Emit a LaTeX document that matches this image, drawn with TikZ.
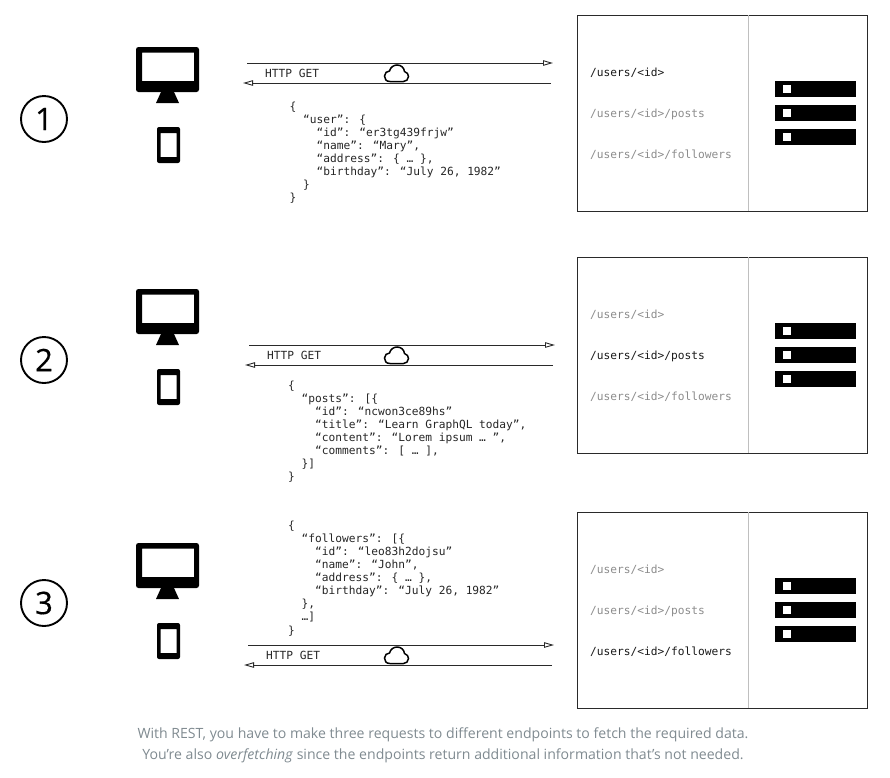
\documentclass[tikz,border=0pt]{standalone}
\usepackage{fontspec}
\setmainfont{Open Sans}
\newfontfamily\jsonfamily{DejaVu Sans Mono}
\newfontfamily\digitfamily[FakeBold=0.5]{Open Sans}
\usetikzlibrary{arrows.meta}
\definecolor{captiongray}{HTML}{7F8A90}
\definecolor{idlegray}{HTML}{8C8C8C}
\definecolor{ruleline}{HTML}{2A2A2A}
\def\jsonsize{\jsonfamily\fontsize{11.2}{13.1}\selectfont}
\def\tw{\ \ }
\tikzset{
    stepnum/.style={draw,circle,line width=1.9pt,minimum size=46pt,inner sep=0pt,font=\digitfamily\fontsize{31}{31}\selectfont},
    wire/.style={draw=ruleline,line width=0.9pt,-{Triangle[open,length=10pt,width=5.5pt]}},
    servbox/.style={draw=ruleline,line width=1pt,minimum width=290pt,minimum height=196pt,inner sep=0pt},
    rackbar/.style={fill=black,minimum width=81pt,minimum height=16pt,inner sep=0pt},
    rackled/.style={fill=white,minimum size=8pt,inner sep=0pt},
    active/.style={anchor=west,inner sep=0pt,text=black!90,font=\jsonsize},
    idle/.style={anchor=west,inner sep=0pt,text=idlegray,font=\jsonsize},
    json/.style={anchor=north west,inner sep=0pt,align=left,text=black!85,font=\jsonsize}
}
\begin{document}
\begin{tikzpicture}[x=1pt,y=-1pt]
    \useasboundingbox (0,0) rectangle (890,777);
    \foreach \n/\cy/\md/\ax/\ay/\bd/\sa/\sb/\sc in {
        1/119/0/0/0/0/active/idle/idle,
        2/360/242/2/282/242/idle/active/idle,
        3/603/496/1/582/497/idle/idle/active} {
        \node[stepnum] (step\n) at (44,\cy) {\n};
        % client
        \begin{scope}[yshift=-\md pt]
            \fill[rounded corners=2.5pt,even odd rule] (136,47) rectangle (199,92) (142,52.5) [sharp corners] rectangle (194,81);
            \fill (161,92) -- (156,103) -- (179,103) -- (174,92) -- cycle;
            \fill[rounded corners=2pt,even odd rule] (157,127) rectangle (180,163) (160.5,133) [sharp corners] rectangle (176.5,157);
        \end{scope}
        % request and response
        \begin{scope}[yshift=-\ay pt]
            \coordinate (reqa\n) at (247+\ax,63);
            \coordinate (reqb\n) at (553+\ax,63);
            \coordinate (resa\n) at (551+\ax,83);
            \coordinate (resb\n) at (243+\ax,83);
            \draw[wire] (reqa\n) -- (reqb\n);
            \draw[wire] (resa\n) -- (resb\n);
            \node[anchor=west,inner sep=0pt,text=black!85,font=\jsonsize] (http\n) at (265+\ax,73) {HTTP GET};
            \draw[line width=1.5pt] (390,81.5) .. controls (386,81.5) and (384.5,79) .. (384.5,76) .. controls (384.5,73) and (387,71) .. (389.5,71) .. controls (390.5,67) and (394,65) .. (397,65) .. controls (401,65) and (404,67.5) .. (404.5,71.5) .. controls (407,72) and (408.5,74.5) .. (408.5,76.5) .. controls (408.5,79.5) and (406,81.5) .. (403.5,81.5) -- cycle;
        \end{scope}
        % server
        \begin{scope}[yshift=-\bd pt]
            \node[servbox] (box\n) at (722.5,113) {};
            \coordinate (divt\n) at (748.7,15);
            \coordinate (divb\n) at (748.7,211);
            \draw[black!25,line width=1.2pt] (divt\n) -- (divb\n);
            \node[\sa] (ep\n a) at (590,73) {/users/<id>};
            \node[\sb] (ep\n b) at (590,114) {/users/<id>/posts};
            \node[\sc] (ep\n c) at (590,155) {/users/<id>/followers};
            \foreach \r/\ry in {a/89,b/113,c/137} {
                \node[rackbar] (rack\n\r) at (815.5,\ry) {};
                \node[rackled] (led\n\r) at (787,\ry) {};
            }
        \end{scope}
    }
    \node[json] (userjson) at (289.5,101.5) {\{\\
        \tw “user”: \{\\
        \tw\tw “id”: “er3tg439frjw”\\
        \tw\tw “name”: “Mary”,\\
        \tw\tw “address”: \{ … \},\\
        \tw\tw “birthday”: “July 26, 1982”\\
        \tw \}\\
        \}};
    \node[json] (postjson) at (288,380.5) {\{\\
        \tw “posts”: [\{\\
        \tw\tw “id”: “ncwon3ce89hs”\\
        \tw\tw “title”: “Learn GraphQL today”,\\
        \tw\tw “content”: “Lorem ipsum … ”,\\
        \tw\tw “comments”: [ … ],\\
        \tw \}]\\
        \}};
    \node[json] (follojson) at (288,520.5) {\{\\
        \tw “followers”: [\{\\
        \tw\tw “id”: “leo83h2dojsu”\\
        \tw\tw “name”: “John”,\\
        \tw\tw “address”: \{ … \},\\
        \tw\tw “birthday”: “July 26, 1982”\\
        \tw \},\\
        \tw …]\\
        \}};
    \node[align=center,text=captiongray,inner sep=0pt,font=\fontsize{14.1}{21}\selectfont] (caption) at (443,745.5) {With REST, you have to make three requests to different endpoints to fetch the required data.\\
        You’re also \textit{overfetching} since the endpoints return additional information that’s not needed.};
\end{tikzpicture}
\end{document}
